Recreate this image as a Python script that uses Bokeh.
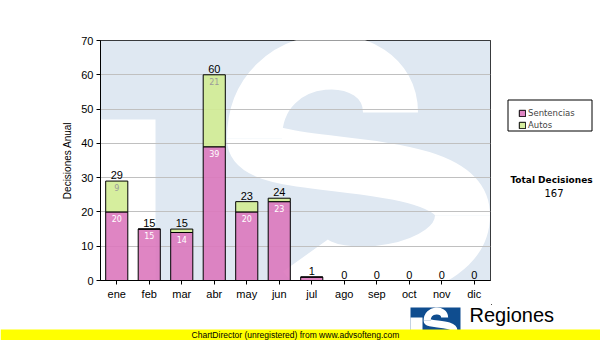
from bokeh.plotting import figure
from bokeh.models import Range1d, FixedTicker, Legend, LegendItem, ColumnDataSource
from bokeh.layouts import column, row
from bokeh.core.properties import value
from bokeh.embed import file_html
from bokeh.resources import INLINE

# ---------------- data ----------------
months = ["ene", "feb", "mar", "abr", "may", "jun", "jul", "ago", "sep", "oct", "nov", "dic"]
sentencias = [20, 15, 14, 39, 20, 23, 1, 0, 0, 0, 0, 0]
autos = [9, 0, 1, 21, 3, 1, 0, 0, 0, 0, 0, 0]
y_ticks = [0, 10, 20, 30, 40, 50, 60, 70]
series_names = ["Sentencias", "Autos"]
total_title = "Total Decisiones"
y_title = "Decisiones Anual"

xs = [i + 0.5 for i in range(len(months))]
totals = [s + a for s, a in zip(sentencias, autos)]
grand_total = sum(totals)

ARIAL = "Liberation Sans"
VERD = "DejaVu Sans"
PINK = "#dc78bd"
GREEN = "#d2ec94"
WM_BLUE = "#dfe8f2"
LOGO_BLUE = "#0f4d8f"

Y_MAX = 70
FRAME_H = 240
PX = Y_MAX / FRAME_H           # data units per screen pixel
IN_OFF = 6.7 * PX              # inside label centre below segment top
TOP_OFF = 6.0 * PX             # total label centre above bar top

src = ColumnDataSource(dict(
    x=xs,
    sent_y=[v - IN_OFF for v in sentencias],
    auto_y=[v - IN_OFF for v in totals],
    total_y=[v + TOP_OFF for v in totals],
    sent=sentencias, total=totals,
    sent_lbl=[str(v) if v >= 5 else "" for v in sentencias],
    auto_lbl=[str(v) if v >= 5 else "" for v in autos],
    total_lbl=[str(v) for v in totals],
))

p = figure(width=491, height=305, x_range=Range1d(0, 12), y_range=Range1d(0, Y_MAX),
           output_backend="svg", toolbar_location=None,
           min_border_left=100, min_border_right=1, min_border_top=40, min_border_bottom=25)
p.background_fill_color = "white"
p.border_fill_color = "white"
p.outline_line_color = "black"
p.outline_line_width = 1

# ---------------- watermark logo (decoration) ----------------
# S outline path (start, control0, control1, end) in a local drawing space
S_SEGS = [
    ((390, 112), (390, 40), (254, 42), (254, 138)),
    ((254, 138), (254, 175), (462, 150), (462, 215)),
    ((462, 215), (462, 275), (330, 290), (305, 255)),
]


def s_path(fx, fy):
    out = dict(x0=[], y0=[], cx0=[], cy0=[], cx1=[], cy1=[], x1=[], y1=[])
    keys = (("x0", "y0"), ("cx0", "cy0"), ("cx1", "cy1"), ("x1", "y1"))
    for seg in S_SEGS:
        for (kx, ky), (u, t) in zip(keys, seg):
            out[kx].append(fx(u))
            out[ky].append(fy(t))
    return out


p.extra_x_ranges = {"px": Range1d(0, 390)}
p.extra_y_ranges = {"py": Range1d(0, FRAME_H)}
p.quad(left=[0], right=[390], bottom=[0], top=[240], fill_color=WM_BLUE, line_color=None,
       level="image", x_range_name="px", y_range_name="py")
p.quad(left=[0], right=[55], bottom=[0], top=[161], fill_color="white", line_color=None,
       level="image", x_range_name="px", y_range_name="py")
p.bezier(**s_path(lambda u: u - 100, lambda t: 280 - t), line_color="white", line_width=55,
         level="image", x_range_name="px", y_range_name="py")

# ---------------- bars ----------------
r_sent = p.vbar(x="x", bottom=0, top="sent", width=0.68, source=src,
                fill_color=PINK, fill_alpha=0.9, line_color="black", line_width=1)
r_auto = p.vbar(x="x", bottom="sent", top="total", width=0.68, source=src,
                fill_color=GREEN, fill_alpha=0.9, line_color="black", line_width=1)

p.text(x="x", y="sent_y", text="sent_lbl", source=src, text_align="center",
       text_baseline="middle", text_font=value(VERD), text_font_size="8px", text_color="white")
p.text(x="x", y="auto_y", text="auto_lbl", source=src, text_align="center",
       text_baseline="middle", text_font=value(VERD), text_font_size="8px", text_color="#9a9a9a")
p.text(x="x", y="total_y", text="total_lbl", source=src, text_align="center",
       text_baseline="middle", text_font=value(ARIAL), text_font_size="11px", text_color="black")

# ---------------- axes ----------------
p.xgrid.visible = False
p.ygrid.grid_line_color = "#c0c0c0"
p.ygrid.grid_line_width = 1

p.xaxis.ticker = FixedTicker(ticks=xs)
p.xaxis.major_label_overrides = {x: m for x, m in zip(xs, months)}
p.yaxis.ticker = FixedTicker(ticks=y_ticks)
for ax in (p.xaxis, p.yaxis):
    ax.axis_line_color = "black"
    ax.major_tick_line_color = "black"
    ax.major_tick_out = 4
    ax.major_tick_in = 0
    ax.minor_tick_line_color = None
    ax.major_label_text_font = ARIAL
    ax.major_label_text_font_size = "11px"
    ax.major_label_text_color = "black"
    ax.major_label_standoff = 3
p.yaxis.axis_label = y_title
p.yaxis.axis_label_text_font = ARIAL
p.yaxis.axis_label_text_font_size = "10px"
p.yaxis.axis_label_text_font_style = "normal"
p.yaxis.axis_label_text_color = "black"
p.yaxis.axis_label_standoff = 5

# ---------------- right side: legend and total (pixel coordinates) ----------------
side = figure(width=109, height=305, x_range=Range1d(0, 109), y_range=Range1d(0, 305),
              output_backend="svg", toolbar_location=None, min_border=0,
              x_axis_type=None, y_axis_type=None)
side.frame_align = False
side.grid.visible = False
side.outline_line_color = None
side.background_fill_color = "white"
side.border_fill_color = "white"
side.quad(left=[16.5], right=[100.5], bottom=[174.5], top=[205.5], fill_color="white",
          line_color="black", line_width=1)
d_sent = side.vbar(x=[-50], top=[1], width=1, fill_color=PINK, fill_alpha=0.9, line_color="black")
d_auto = side.vbar(x=[-50], top=[1], width=1, fill_color=GREEN, fill_alpha=0.9, line_color="black")
legend = Legend(items=[LegendItem(label=series_names[0], renderers=[d_sent]),
                       LegendItem(label=series_names[1], renderers=[d_auto])],
                location=(27, 175.5), orientation="vertical",
                border_line_alpha=0, background_fill_alpha=0,
                label_text_font=VERD, label_text_font_size="8.5px",
                glyph_width=8, glyph_height=8, label_standoff=2,
                label_width=50, label_height=8, padding=0, spacing=2, margin=0)
side.add_layout(legend)
side.text(x=[60], y=[126], text=[total_title], text_font=value(VERD), text_font_style="bold",
          text_font_size="9px", text_align="center", text_baseline="middle", text_color="black")
side.text(x=[62.5], y=[112.5], text=[str(grand_total)], text_font=value(VERD),
          text_font_size="10px", text_align="center", text_baseline="middle", text_color="black")

# ---------------- bottom band: logo + ChartDirector banner ----------------
b = figure(width=600, height=35, x_range=Range1d(0, 600), y_range=Range1d(0, 35),
           output_backend="svg", toolbar_location=None, min_border=0,
           x_axis_type=None, y_axis_type=None)
b.frame_align = False
b.grid.visible = False
b.outline_line_color = None
b.background_fill_color = "white"
b.border_fill_color = "white"
b.quad(left=[410], right=[460], bottom=[0], top=[33], fill_color=LOGO_BLUE, line_color=None)
b.quad(left=[410], right=[422], bottom=[0], top=[23], fill_color="white", line_color=None)
LK = 0.129
b.bezier(**s_path(lambda u: 423 + (u - 226) * LK, lambda t: 340 - (307 + (t - 35) * LK)),
         line_color="white", line_width=7)
b.text(x=[469], y=[25.5], text=["Regiones"], text_font=value(ARIAL), text_font_size="20px",
       text_baseline="middle", text_align="left", text_color="black")
b.quad(left=[0], right=[600], bottom=[0], top=[11], fill_color="#ffff00", line_color=None)
b.text(x=[295], y=[5.5], text=["ChartDirector (unregistered) from www.advsofteng.com"],
       text_font=value(ARIAL), text_font_size="8.5px", text_baseline="middle",
       text_align="center", text_color="black")

layout = column(row(p, side, spacing=0), b, spacing=0)
open("out.html", "w").write(file_html(layout, INLINE))
